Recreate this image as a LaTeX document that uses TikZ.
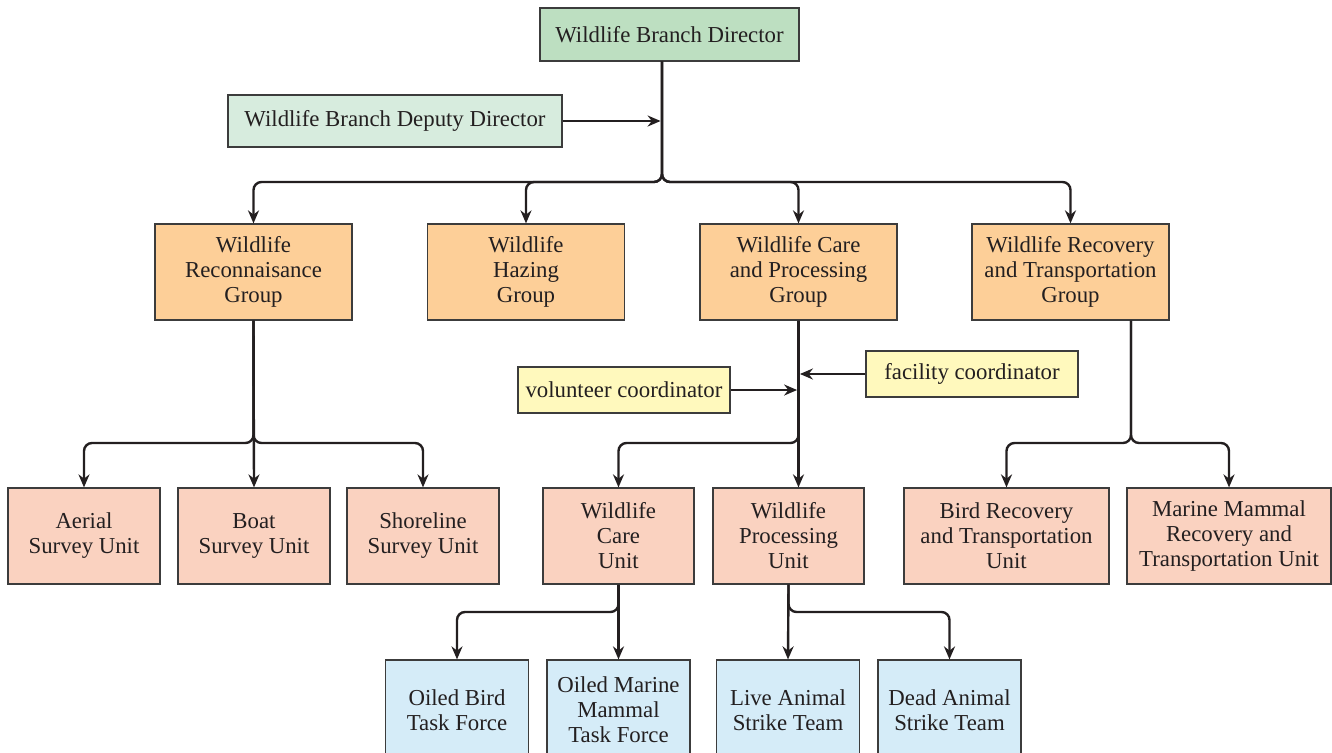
\documentclass[tikz,border=0pt]{standalone}
\usepackage{fontspec}
\setmainfont{LiberationSerif}[Extension=.ttf, UprightFont=*-Regular, BoldFont=*-Bold]
\usetikzlibrary{arrows.meta}

\definecolor{ink}{HTML}{231F20}
\definecolor{boxline}{HTML}{3C3C3C}
\definecolor{dirfill}{HTML}{BDDFC1}
\definecolor{depfill}{HTML}{D7ECDE}
\definecolor{grpfill}{HTML}{FDCF98}
\definecolor{unitfill}{HTML}{FAD2C0}
\definecolor{coordfill}{HTML}{FFF9BD}
\definecolor{teamfill}{HTML}{D5ECF8}

\tikzset{
  box/.style={draw=boxline, line width=1.2pt, text=ink, align=center,
    inner sep=0pt, font=\fontsize{22.8pt}{25pt}\selectfont},
  topbox/.style={box, fill=dirfill},
  depbox/.style={box, fill=depfill},
  grpbox/.style={box, fill=grpfill, minimum width=197pt, minimum height=96pt},
  unitbox/.style={box, fill=unitfill, minimum width=152pt, minimum height=96pt},
  widebox/.style={box, fill=unitfill, minimum width=205pt, minimum height=96pt},
  coordbox/.style={box, fill=coordfill, minimum width=212pt, minimum height=46pt},
  teambox/.style={box, fill=teamfill, minimum width=143pt, minimum height=100pt},
  conn/.style={draw=ink, line width=2.4pt, rounded corners=8pt,
    -{Stealth[length=13pt,width=11pt]}},
  feed/.style={conn, shorten >=1.4pt}
}

\begin{document}
\begin{tikzpicture}[x=1pt,y=-1pt]
\useasboundingbox (0,0) rectangle (1332,752);
\clip (0,0) rectangle (1332,752);

% director level
\node[topbox, minimum width=259pt, minimum height=53pt] (dir) at (669.5,34.5) {Wildlife Branch Director};
\node[depbox, minimum width=334pt, minimum height=52pt] (dep) at (395,121) {Wildlife Branch Deputy Director};

% groups
\node[grpbox] (recon) at (253.5,272) {Wildlife\\Reconnaisance\\Group};
\node[grpbox] (hazing) at (526,272) {Wildlife\\Hazing\\Group};
\node[grpbox] (careg) at (798.5,272) {Wildlife Care\\and Processing\\Group};
\node[grpbox] (recov) at (1070.5,272) {Wildlife Recovery\\and Transportation\\Group};

% coordinators
\node[coordbox] (vol) at (624,390) {volunteer coordinator};
\node[coordbox] (fac) at (972,374) {facility coordinator};

% units
\node[unitbox] (aerial) at (84,536) {Aerial\\Survey Unit};
\node[unitbox] (boat) at (254,536) {Boat\\Survey Unit};
\node[unitbox] (shore) at (423,536) {Shoreline\\Survey Unit};
\node[unitbox, minimum width=151pt] (careu) at (618.5,536) {Wildlife\\Care\\Unit};
\node[unitbox, minimum width=151pt] (procu) at (788.5,536) {Wildlife\\Processing\\Unit};
\node[widebox] (birdr) at (1006.5,536) {Bird Recovery\\and Transportation\\Unit};
\node[widebox, minimum width=204pt] (marr) at (1229,536) {Marine Mammal\\Recovery and\\Transportation Unit};

% teams
\node[teambox] (obird) at (457,710) {Oiled Bird\\Task Force};
\node[teambox] (omar) at (618.5,710) {Oiled Marine\\Mammal\\Task Force};
\node[teambox] (live) at (788,710) {Live Animal\\Strike Team};
\node[teambox] (dead) at (949.5,710) {Dead Animal\\Strike Team};

% junction points
\coordinate (j0) at (662,182);
\coordinate (j1) at (253.5,443);
\coordinate (j2) at (798.5,443);
\coordinate (j3) at (1131,443);
\coordinate (j4) at (618.5,612);
\coordinate (j5) at (788.5,612);

% director to groups
\draw[conn] (dir.south -| j0) -- (j0) -| (recon.north);
\draw[conn] (dir.south -| j0) -- (j0) -| (hazing.north);
\draw[conn] (dir.south -| j0) -- (j0) -| (careg.north);
\draw[conn] (dir.south -| j0) -- (j0) -| (recov.north);
\draw[feed] (dep.east) -- (dep.east -| j0);

% reconnaissance units
\draw[conn] (recon.south) -- (j1) -| (aerial.north);
\draw[conn] (recon.south) -- (j1) -| (shore.north);
\draw[conn] (recon.south) -- (boat.north);

% care and processing units
\draw[conn] (careg.south) -- (j2) -| (careu.north);
\draw[conn] (careg.south) -- (careg.south |- procu.north);
\draw[feed] (vol.east) -- (vol.east -| j2);
\draw[feed] (fac.west) -- (fac.west -| j2);

% recovery units
\draw[conn] (recov.south -| j3) -- (j3) -| (birdr.north);
\draw[conn] (recov.south -| j3) -- (j3) -| (marr.north);

% task forces and strike teams
\draw[conn] (careu.south) -- (j4) -| (obird.north);
\draw[conn] (careu.south) -- (omar.north);
\draw[conn] (procu.south) -- (j5) -| (dead.north);
\draw[conn] (procu.south) -- (live.north);
\end{tikzpicture}
\end{document}
